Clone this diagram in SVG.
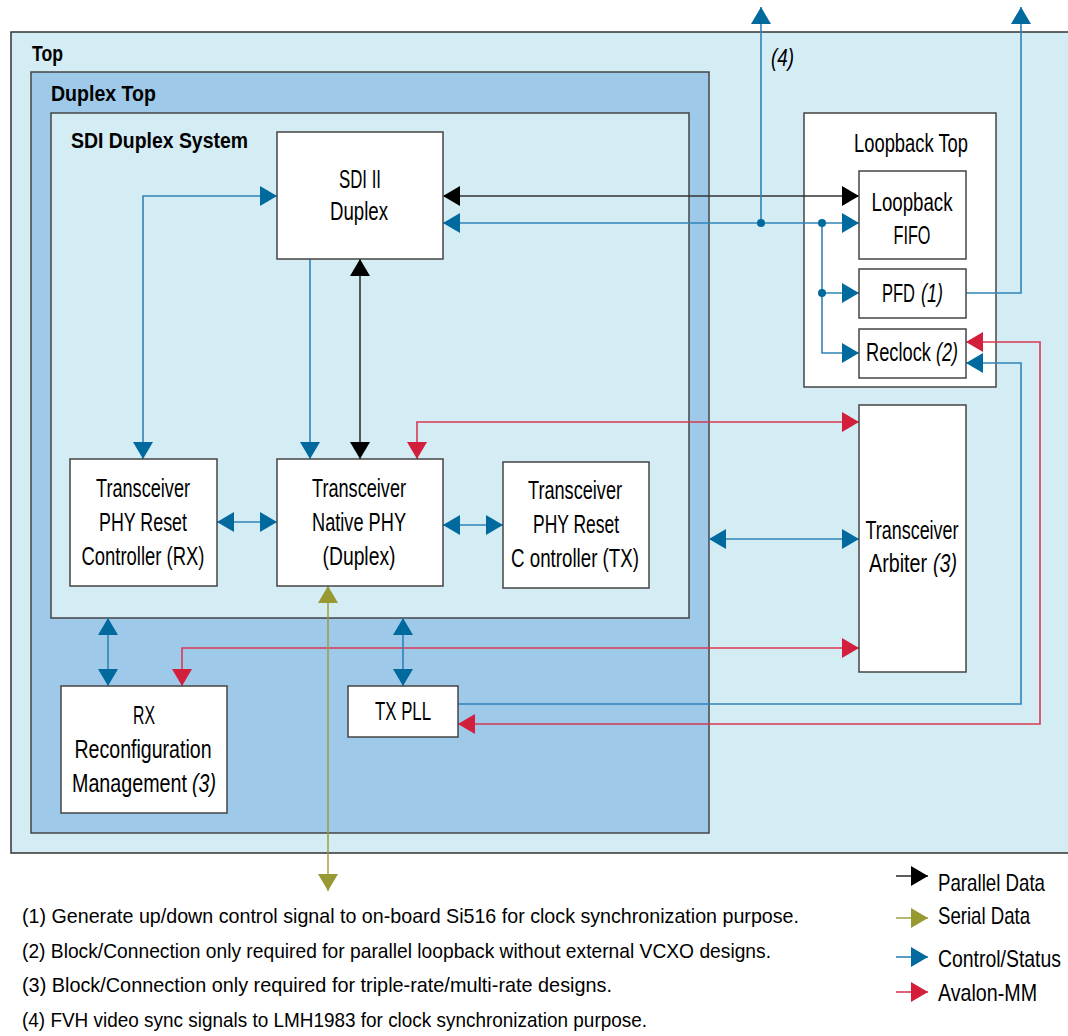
<svg xmlns="http://www.w3.org/2000/svg" width="1068" height="1036" viewBox="0 0 1068 1036">
<style>
text{font-family:"Liberation Sans",Arial,sans-serif;fill:#000}
.h{font-size:22px;font-weight:bold}
.n{font-size:25px;text-anchor:middle}
.ns{font-size:25px}
.lg{font-size:24px}
.fn{font-size:21px}
.i{font-style:italic}
.node{fill:#fff;stroke:#444;stroke-width:1.5}
.cb{fill:none;stroke:#2f84b8;stroke-width:1.6}
.cr{fill:none;stroke:#d83a52;stroke-width:1.6}
.ck{fill:none;stroke:#333;stroke-width:1.6}
.co{fill:none;stroke:#9a9a33;stroke-width:1.4}
</style>
<defs>
<marker id="ab" markerUnits="userSpaceOnUse" markerWidth="18" markerHeight="20" refX="17" refY="10" orient="auto-start-reverse" viewBox="0 0 18 20"><path d="M0,0 L17,10 L0,20 z" fill="#006a9e"/></marker>
<marker id="ar" markerUnits="userSpaceOnUse" markerWidth="18" markerHeight="20" refX="17" refY="10" orient="auto-start-reverse" viewBox="0 0 18 20"><path d="M0,0 L17,10 L0,20 z" fill="#d21f3c"/></marker>
<marker id="ak" markerUnits="userSpaceOnUse" markerWidth="18" markerHeight="20" refX="17" refY="10" orient="auto-start-reverse" viewBox="0 0 18 20"><path d="M0,0 L17,10 L0,20 z" fill="#000"/></marker>
<marker id="ao" markerUnits="userSpaceOnUse" markerWidth="18" markerHeight="20" refX="17" refY="10" orient="auto-start-reverse" viewBox="0 0 18 20"><path d="M0,0 L17,10 L0,20 z" fill="#999933"/></marker>
</defs>

<g id="top">
<rect x="11" y="32" width="1070" height="821" fill="#d4ecf4" stroke="#333" stroke-width="1.5"/>
<text class="h" x="32" y="61" textLength="31" lengthAdjust="spacingAndGlyphs">Top</text>
</g>
<g id="duplex-top">
<rect x="31" y="72" width="678" height="761" fill="#9fc9e9" stroke="#444" stroke-width="1.5"/>
<text class="h" x="51" y="101" textLength="105" lengthAdjust="spacingAndGlyphs">Duplex Top</text>
</g>
<g id="sdi-duplex-system">
<rect x="51" y="113" width="638" height="505" fill="#d4ecf4" stroke="#444" stroke-width="1.5"/>
<text class="h" x="71" y="148" textLength="177" lengthAdjust="spacingAndGlyphs">SDI Duplex System</text>
</g>
<g id="loopback-top">
<rect x="804" y="113" width="192" height="274" class="node"/>
<text class="n" transform="translate(911,152) scale(0.73,1)" textLength="156.2" lengthAdjust="spacingAndGlyphs">Loopback Top</text>
</g>

<g id="connectors">
<path class="cb" d="M143,459 L143,196 L277,196" marker-start="url(#ab)" marker-end="url(#ab)"/>
<path class="cb" d="M310,259 L310,459" marker-end="url(#ab)"/>
<path class="ck" d="M360,259 L360,459" marker-start="url(#ak)" marker-end="url(#ak)"/>
<path class="cr" d="M417,459 L417,422 L859,422" marker-start="url(#ar)" marker-end="url(#ar)"/>
<path class="ck" d="M443,196 L859,196" marker-start="url(#ak)" marker-end="url(#ak)"/>
<path class="cb" d="M443,223 L859,223" marker-start="url(#ab)" marker-end="url(#ab)"/>
<path class="cb" d="M761,223 L761,7" marker-end="url(#ab)"/>
<path class="cb" d="M822,223 L822,353 L859,353" marker-end="url(#ab)"/>
<path class="cb" d="M822,293 L859,293" marker-end="url(#ab)"/>
<path class="cb" d="M966,293 L1021,293 L1021,7" marker-end="url(#ab)"/>
<path class="cr" d="M966,342 L1040,342 L1040,724 L458,724" marker-start="url(#ar)" marker-end="url(#ar)"/>
<path class="cb" d="M458,704 L1021,704 L1021,363 L966,363" marker-end="url(#ab)"/>
<path class="cb" d="M217,522 L277,522" marker-start="url(#ab)" marker-end="url(#ab)"/>
<path class="cb" d="M443,525 L503,525" marker-start="url(#ab)" marker-end="url(#ab)"/>
<path class="cb" d="M709,539 L859,539" marker-start="url(#ab)" marker-end="url(#ab)"/>
<path class="cr" d="M182,686 L182,648 L859,648" marker-start="url(#ar)" marker-end="url(#ar)"/>
<path class="cb" d="M108,618 L108,686" marker-start="url(#ab)" marker-end="url(#ab)"/>
<path class="cb" d="M403,618 L403,686" marker-start="url(#ab)" marker-end="url(#ab)"/>
<path class="co" d="M328,586 L328,891" marker-start="url(#ao)" marker-end="url(#ao)"/>
<circle cx="761" cy="223" r="4" fill="#006a9e"/>
<circle cx="822" cy="223" r="4" fill="#006a9e"/>
<circle cx="822" cy="293" r="4" fill="#006a9e"/>
<text class="lg i" x="771" y="66" textLength="23" lengthAdjust="spacingAndGlyphs">(4)</text>
</g>

<g id="sdi-ii-duplex">
<rect x="277" y="132" width="166" height="127" class="node"/>
<text class="n" transform="translate(360,188) scale(0.73,1)" textLength="57.5" lengthAdjust="spacingAndGlyphs">SDI II</text>
<text class="n" transform="translate(359,220) scale(0.73,1)" textLength="79.5" lengthAdjust="spacingAndGlyphs">Duplex</text>
</g>
<g id="loopback-fifo">
<rect x="859" y="171" width="107" height="88" class="node"/>
<text class="n" transform="translate(912,211) scale(0.73,1)" textLength="111" lengthAdjust="spacingAndGlyphs">Loopback</text>
<text class="n" transform="translate(912,244) scale(0.73,1)" textLength="50.7" lengthAdjust="spacingAndGlyphs">FIFO</text>
</g>
<g id="pfd">
<rect x="859" y="269" width="107" height="49" class="node"/>
<text class="ns" transform="translate(882,302) scale(0.73,1)" textLength="45.2" lengthAdjust="spacingAndGlyphs">PFD</text>
<text class="ns i" transform="translate(921,302) scale(0.73,1)" textLength="30.1" lengthAdjust="spacingAndGlyphs">(1)</text>
</g>
<g id="reclock">
<rect x="859" y="329" width="107" height="49" class="node"/>
<text class="ns" transform="translate(866,361) scale(0.73,1)" textLength="89" lengthAdjust="spacingAndGlyphs">Reclock</text>
<text class="ns i" transform="translate(936,361) scale(0.73,1)" textLength="30.1" lengthAdjust="spacingAndGlyphs">(2)</text>
</g>
<g id="transceiver-arbiter">
<rect x="859" y="405" width="107" height="267" class="node"/>
<text class="n" transform="translate(912,539) scale(0.73,1)" textLength="127.4" lengthAdjust="spacingAndGlyphs">Transceiver</text>
<text class="ns" transform="translate(869,572) scale(0.73,1)" textLength="79.5" lengthAdjust="spacingAndGlyphs">Arbiter</text>
<text class="ns i" transform="translate(933,572) scale(0.73,1)" textLength="32.9" lengthAdjust="spacingAndGlyphs">(3)</text>
</g>
<g id="phy-reset-rx">
<rect x="70" y="459" width="147" height="127" class="node"/>
<text class="n" transform="translate(143,497) scale(0.73,1)" textLength="128.8" lengthAdjust="spacingAndGlyphs">Transceiver</text>
<text class="n" transform="translate(143,531) scale(0.73,1)" textLength="120.5" lengthAdjust="spacingAndGlyphs">PHY Reset</text>
<text class="n" transform="translate(143,565) scale(0.73,1)" textLength="168.5" lengthAdjust="spacingAndGlyphs">Controller (RX)</text>
</g>
<g id="native-phy">
<rect x="277" y="459" width="166" height="127" class="node"/>
<text class="n" transform="translate(359,497) scale(0.73,1)" textLength="128.8" lengthAdjust="spacingAndGlyphs">Transceiver</text>
<text class="n" transform="translate(359,531) scale(0.73,1)" textLength="128.8" lengthAdjust="spacingAndGlyphs">Native PHY</text>
<text class="n" transform="translate(359,565) scale(0.73,1)" textLength="100" lengthAdjust="spacingAndGlyphs">(Duplex)</text>
</g>
<g id="phy-reset-tx">
<rect x="503" y="462" width="146" height="126" class="node"/>
<text class="n" transform="translate(575,499) scale(0.73,1)" textLength="128.8" lengthAdjust="spacingAndGlyphs">Transceiver</text>
<text class="n" transform="translate(576,533) scale(0.73,1)" textLength="117.8" lengthAdjust="spacingAndGlyphs">PHY Reset</text>
<text class="n" transform="translate(575,567) scale(0.73,1)" textLength="175.3" lengthAdjust="spacingAndGlyphs">C ontroller (TX)</text>
</g>
<g id="rx-reconfig">
<rect x="61" y="686" width="166" height="127" class="node"/>
<text class="n" transform="translate(144,724) scale(0.73,1)" textLength="30.1" lengthAdjust="spacingAndGlyphs">RX</text>
<text class="n" transform="translate(143,758) scale(0.73,1)" textLength="187.7" lengthAdjust="spacingAndGlyphs">Reconfiguration</text>
<text class="ns" transform="translate(72,792) scale(0.73,1)" textLength="157.5" lengthAdjust="spacingAndGlyphs">Management</text>
<text class="ns i" transform="translate(192,792) scale(0.73,1)" textLength="32.9" lengthAdjust="spacingAndGlyphs">(3)</text>
</g>
<g id="tx-pll">
<rect x="348" y="686" width="110" height="51" class="node"/>
<text class="n" transform="translate(403,720) scale(0.73,1)" textLength="76.7" lengthAdjust="spacingAndGlyphs">TX PLL</text>
</g>

<g id="legend">
<path class="ck" d="M896,876 L928,876" marker-end="url(#ak)"/>
<path class="co" d="M896,918 L928,918" marker-end="url(#ao)"/>
<path class="cb" d="M896,957 L928,957" marker-end="url(#ab)"/>
<path class="cr" d="M896,992 L928,992" marker-end="url(#ar)"/>
<text class="lg" transform="translate(938,891) scale(0.8,1)" textLength="133.75" lengthAdjust="spacingAndGlyphs">Parallel Data</text>
<text class="lg" transform="translate(938,924) scale(0.8,1)" textLength="115" lengthAdjust="spacingAndGlyphs">Serial Data</text>
<text class="lg" transform="translate(938,967) scale(0.8,1)" textLength="153.75" lengthAdjust="spacingAndGlyphs">Control/Status</text>
<text class="lg" transform="translate(938,1001) scale(0.8,1)" textLength="123.75" lengthAdjust="spacingAndGlyphs">Avalon-MM</text>
</g>

<g id="footnotes">
<text class="fn" x="22" y="923" textLength="777" lengthAdjust="spacingAndGlyphs">(1) Generate up/down control signal to on-board Si516 for clock synchronization purpose.</text>
<text class="fn" x="22" y="958" textLength="749" lengthAdjust="spacingAndGlyphs">(2) Block/Connection only required for parallel loopback without external VCXO designs.</text>
<text class="fn" x="22" y="992" textLength="590" lengthAdjust="spacingAndGlyphs">(3) Block/Connection only required for triple-rate/multi-rate designs.</text>
<text class="fn" x="22" y="1027" textLength="625" lengthAdjust="spacingAndGlyphs">(4) FVH video sync signals to LMH1983 for clock synchronization purpose.</text>
</g>
</svg>
